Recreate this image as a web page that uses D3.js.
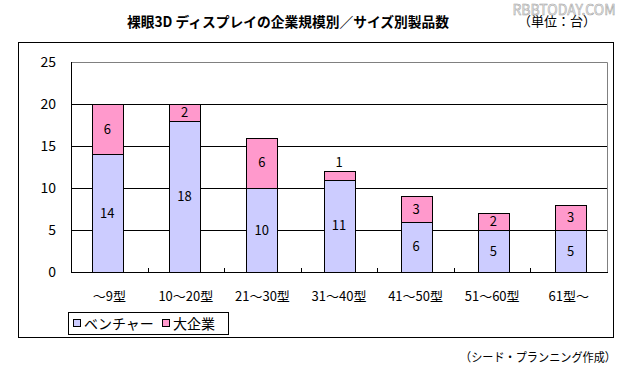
<!DOCTYPE html>
<html>
<head>
<meta charset="utf-8">
<script src="https://cdn.jsdelivr.net/npm/d3@7"></script>
<style>
    body { margin: 0; background: #fff; }
    text { font-family: "Noto Sans CJK JP", "Noto Sans", sans-serif; }
</style>
</head>
<body>
<div id="chart_div"></div>
<script>
    const categories = ["～9型", "10～20型", "21～30型", "31～40型", "41～50型", "51～60型", "61型～"];
    const venture = [14, 18, 10, 11, 6, 5, 5];
    const large = [6, 2, 6, 1, 3, 2, 3];
    const seriesNames = ["ベンチャー", "大企業"];
    const yTicks = [0, 5, 10, 15, 20, 25];

    const width = 627;
    const height = 376;
    const margin = { left: 71, right: 20, top: 62, bottom: 104 };
    const colors = ["#ccccff", "#ff99cc"];

    const svg = d3.select("#chart_div")
        .append("svg")
        .attr("width", width)
        .attr("height", height);

    // Header
    svg.append("text")
        .attr("x", 288).attr("y", 27)
        .attr("text-anchor", "middle")
        .attr("font-size", 14).attr("font-weight", "bold")
        .attr("textLength", 322).attr("lengthAdjust", "spacingAndGlyphs")
        .text("裸眼3D ディスプレイの企業規模別／サイズ別製品数");

    svg.append("text")
        .attr("x", 564).attr("y", 15)
        .attr("text-anchor", "middle")
        .attr("font-family", "Liberation Sans, sans-serif")
        .attr("font-size", 14)
        .attr("fill", "#ececec").attr("stroke", "#a0a0a0").attr("stroke-width", 0.5)
        .text("RBBTODAY.COM");

    svg.append("text")
        .attr("x", 557).attr("y", 26)
        .attr("text-anchor", "middle")
        .attr("font-size", 13)
        .text("（単位：台）");

    // Chart frame
    svg.append("rect")
        .attr("x", 18.5).attr("y", 42.5)
        .attr("width", 595).attr("height", 295)
        .attr("fill", "none").attr("stroke", "#000");

    // Scales
    const x = d3.scaleBand()
        .domain(categories)
        .range([margin.left, width - margin.right])
        .paddingInner(0.6)
        .paddingOuter(0.27);

    const y = d3.scaleLinear()
        .domain([0, 25])
        .range([height - margin.bottom, margin.top]);

    const step = (width - margin.right - margin.left) / categories.length;
    const x0 = margin.left;
    const x1 = width - margin.right;

    // Grid
    svg.append("g")
        .selectAll("line")
        .data(yTicks.filter(d => d > 0 && d < 25))
        .enter()
        .append("line")
        .attr("x1", x0).attr("x2", x1)
        .attr("y1", d => Math.round(y(d)) + 0.5)
        .attr("y2", d => Math.round(y(d)) + 0.5)
        .attr("stroke", "#000");

    // plot area border (gray top/right)
    svg.append("path")
        .attr("d", `M${x0},${Math.round(y(25)) + 0.5}H${x1 + 0.5}V${Math.round(y(0))}`)
        .attr("fill", "none").attr("stroke", "#808080");

    // Stacked bars
    const stackData = categories.map((c, i) => ({ cat: c, v: venture[i], l: large[i] }));
    const stack = d3.stack().keys(["v", "l"])(stackData);

    const bars = svg.append("g");
    stack.forEach((layer, si) => {
        bars.append("g")
            .selectAll("rect")
            .data(layer)
            .enter()
            .append("rect")
            .attr("x", d => Math.round(x(d.data.cat)) + 0.5)
            .attr("y", d => Math.round(y(d[1])) + 0.5)
            .attr("width", Math.round(x.bandwidth()))
            .attr("height", d => Math.round(y(d[0])) - Math.round(y(d[1])))
            .attr("fill", colors[si])
            .attr("stroke", "#000");
    });

    // Data labels
    stack.forEach((layer) => {
        svg.append("g")
            .selectAll("text")
            .data(layer)
            .enter()
            .append("text")
            .attr("x", d => x(d.data.cat) + x.bandwidth() / 2)
            .attr("y", d => {
                const h = y(d[0]) - y(d[1]);
                if (h < 14) return y(d[1]) - 9;
                return (y(d[0]) + y(d[1])) / 2;
            })
            .attr("dy", "0.36em")
            .attr("text-anchor", "middle")
            .attr("font-size", 13)
            .text(d => d[1] - d[0]);
    });

    // Axes
    svg.append("line")
        .attr("x1", x0 + 0.5).attr("x2", x0 + 0.5)
        .attr("y1", y(25)).attr("y2", y(0) + 1)
        .attr("stroke", "#000");

    svg.append("line")
        .attr("x1", x0).attr("x2", x1 + 1)
        .attr("y1", Math.round(y(0)) + 0.5).attr("y2", Math.round(y(0)) + 0.5)
        .attr("stroke", "#000");

    svg.append("g")
        .selectAll("line")
        .data(d3.range(1, categories.length))
        .enter()
        .append("line")
        .attr("x1", i => Math.round(x0 + i * step) + 0.5)
        .attr("x2", i => Math.round(x0 + i * step) + 0.5)
        .attr("y1", y(0) - 4).attr("y2", y(0))
        .attr("stroke", "#000");

    svg.append("g")
        .selectAll("text")
        .data(yTicks)
        .enter()
        .append("text")
        .attr("x", x0 - 15)
        .attr("y", d => y(d))
        .attr("dy", "0.36em")
        .attr("text-anchor", "end")
        .attr("font-size", 14)
        .text(d => d);

    svg.append("g")
        .selectAll("text")
        .data(categories)
        .enter()
        .append("text")
        .attr("x", (d, i) => x0 + step * (i + 0.5))
        .attr("y", 296)
        .attr("dy", "0.36em")
        .attr("text-anchor", "middle")
        .attr("font-size", 13)
        .text(d => d);

    // Legend
    const legend = svg.append("g").attr("id", "legend");
    legend.append("rect")
        .attr("x", 68.5).attr("y", 312.5)
        .attr("width", 160).attr("height", 22)
        .attr("fill", "#fff").attr("stroke", "#000");

    const legendX = [73, 162];
    seriesNames.forEach((name, i) => {
        legend.append("rect")
            .attr("x", legendX[i] + 0.5).attr("y", 319.5)
            .attr("width", 7).attr("height", 7)
            .attr("fill", colors[i]).attr("stroke", "#000");
        legend.append("text")
            .attr("x", legendX[i] + 11).attr("y", 323.5)
            .attr("dy", "0.36em")
            .attr("font-size", 14)
            .text(name);
    });

    svg.append("text")
        .attr("x", 616).attr("y", 358)
        .attr("dy", "0.36em")
        .attr("text-anchor", "end")
        .attr("font-size", 12)
        .attr("textLength", 156).attr("lengthAdjust", "spacingAndGlyphs")
        .text("（シード・プランニング作成）");
</script>
</body>
</html>
